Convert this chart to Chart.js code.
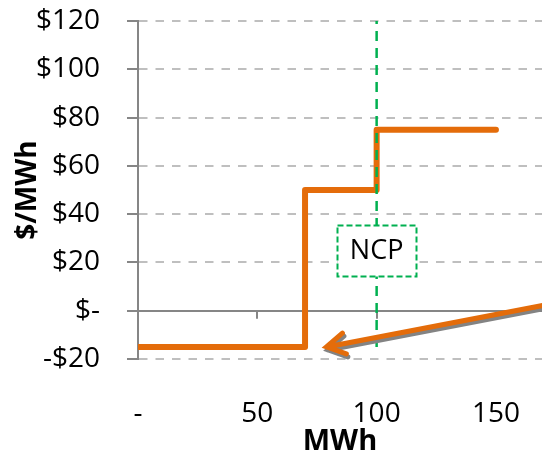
<!DOCTYPE html>
<html>
<head>
<meta charset="utf-8">
<script src="https://cdn.jsdelivr.net/npm/chart.js@4"></script>
<style>
  html, body { margin: 0; padding: 0; background: #fff; }
  #wrap { width: 542px; height: 456px; }
</style>
</head>
<body>
<div id="wrap"><canvas id="c"></canvas></div>
<script>
// Offer curve: price steps at each quantity break (MWh, $/MWh)
const quantityBreaks = [0, 70, 100, 150];
const offerPrices = [-15, 50, 75, 75];

// Net clearing point marker
const ncpQuantity = 100;
const ncpPriceRange = [-15, 120];
const ncpLabel = 'NCP';
const ncpLabelPrice = 25;

// Arrow pointing back along the low-price step
const arrowQuantity = [175, 79];
const arrowPrice = [3.2, -15];

// Axis ticks
const priceTicks = [-20, 0, 20, 40, 60, 80, 100, 120];
const quantityTicks = [0, 50, 100, 150];

const FONT = "'Open Sans', 'Liberation Sans', sans-serif";
const ORANGE = '#E46C0A';
const GREEN = '#00B050';
const AXIS_GREY = '#868686';

function priceLabel(v) {
  if (v === 0) return '$-';
  return v < 0 ? '-$' + (-v) : '$' + v;
}

function grainPattern(ctx) {
  const c = document.createElement('canvas');
  c.width = 2; c.height = 2;
  const g = c.getContext('2d');
  g.fillStyle = '#d4d4d4'; g.fillRect(0, 0, 2, 2);
  g.fillStyle = '#333'; g.fillRect(0, 0, 1, 1); g.fillRect(1, 1, 1, 1);
  return ctx.createPattern(c, 'repeat');
}

function arrowPath(ctx, x1, y1, x2, y2, head, ang) {
  const a = Math.atan2(y1 - y2, x1 - x2);
  ctx.beginPath();
  ctx.moveTo(x1, y1);
  ctx.lineTo(x2, y2);
  ctx.moveTo(x2 + head * Math.cos(a + ang), y2 + head * Math.sin(a + ang));
  ctx.lineTo(x2, y2);
  ctx.lineTo(x2 + head * Math.cos(a - ang), y2 + head * Math.sin(a - ang));
}

const overlay = {
  id: 'overlay',
  beforeDatasetsDraw(chart) {
    // small tick marks hanging below the zero-price line
    const { ctx, scales: { x, y } } = chart;
    const y0 = y.getPixelForValue(0);
    ctx.save();
    ctx.strokeStyle = AXIS_GREY;
    ctx.lineWidth = 2;
    quantityTicks.filter(v => v > 0).forEach(v => {
      const px = Math.round(x.getPixelForValue(v));
      ctx.beginPath();
      ctx.moveTo(px, y0);
      ctx.lineTo(px, y0 + 8);
      ctx.stroke();
    });
    ctx.restore();
  },
  afterDatasetsDraw(chart) {
    const { ctx, scales: { x, y } } = chart;

    // NCP label box
    const cx = x.getPixelForValue(ncpQuantity);
    const cy = y.getPixelForValue(ncpLabelPrice);
    ctx.save();
    ctx.font = '27px ' + FONT;
    const tw = ctx.measureText(ncpLabel).width;
    const bw = Math.round(tw + 25), bh = 51;
    const bx = Math.round(cx - bw / 2) + 0.5, by = Math.round(cy - bh / 2) + 0.5;
    ctx.fillStyle = '#fff';
    ctx.fillRect(bx, by, bw, bh);
    ctx.strokeStyle = GREEN;
    ctx.lineWidth = 2;
    ctx.setLineDash([6, 3]);
    ctx.strokeRect(bx, by, bw, bh);
    ctx.setLineDash([]);
    ctx.fillStyle = '#000';
    ctx.textAlign = 'center';
    ctx.textBaseline = 'middle';
    ctx.fillText(ncpLabel, cx, cy + 1);
    ctx.restore();

    // arrow with a grainy drop shadow
    const x1 = x.getPixelForValue(arrowQuantity[0]);
    const y1 = y.getPixelForValue(arrowPrice[0]);
    const x2 = x.getPixelForValue(arrowQuantity[1]);
    const y2 = y.getPixelForValue(arrowPrice[1]);
    const head = 21, ang = Math.PI / 6;
    ctx.save();
    ctx.lineCap = 'round';
    ctx.lineJoin = 'miter';
    ctx.lineWidth = 5;
    ctx.translate(1.5, 3);
    arrowPath(ctx, x1, y1, x2, y2, head, ang);
    ctx.strokeStyle = grainPattern(ctx);
    ctx.stroke();
    ctx.translate(-1.5, -3);
    arrowPath(ctx, x1, y1, x2, y2, head, ang);
    ctx.strokeStyle = ORANGE;
    ctx.stroke();
    ctx.restore();
  }
};

new Chart(document.getElementById('c'), {
  type: 'line',
  data: {
    datasets: [
      {
        label: 'Offer curve',
        data: quantityBreaks.map((q, i) => ({ x: q, y: offerPrices[i] })),
        stepped: 'before',
        borderColor: ORANGE,
        borderWidth: 6,
        borderCapStyle: 'round',
        borderJoinStyle: 'round',
        pointRadius: 0,
        fill: false,
        order: 1
      },
      {
        label: 'NCP',
        data: ncpPriceRange.map(p => ({ x: ncpQuantity, y: p })),
        borderColor: GREEN,
        borderWidth: 2.5,
        borderDash: [10, 7],
        pointRadius: 0,
        fill: false,
        order: 0
      }
    ]
  },
  options: {
    responsive: true,
    maintainAspectRatio: false,
    animation: false,
    devicePixelRatio: 1,
    layout: { padding: { top: 21, right: 0, bottom: 0, left: 0 } },
    plugins: { legend: { display: false }, tooltip: { enabled: false } },
    scales: {
      x: {
        type: 'linear',
        min: 0,
        max: 169.3,
        afterBuildTicks: s => { s.ticks = quantityTicks.map(v => ({ value: v })); },
        afterFit: s => { s.height = 97; s.paddingLeft = 0; s.paddingRight = 0; },
        grid: { display: false, drawTicks: false },
        border: { display: false },
        ticks: {
          padding: 38,
          color: '#000',
          maxRotation: 0,
          autoSkip: false,
          font: { family: FONT, size: 28 },
          callback: v => (v === 0 ? '-' : String(v))
        },
        title: {
          display: true,
          text: 'MWh',
          color: '#000',
          font: { family: FONT, size: 29, weight: 'bold', lineHeight: 1 },
          padding: { top: 0, bottom: 0 }
        }
      },
      y: {
        min: -20,
        max: 120,
        afterBuildTicks: s => { s.ticks = priceTicks.map(v => ({ value: v })); },
        afterFit: s => { s.width = 138; s.paddingTop = 0; s.paddingBottom = 0; },
        ticks: {
          padding: 27,
          color: '#000',
          font: { family: FONT, size: 28 },
          callback: v => priceLabel(v)
        },
        grid: {
          color: c => (c.tick && c.tick.value === 0 ? AXIS_GREY : '#BFBFBF'),
          lineWidth: 2,
          tickColor: AXIS_GREY,
          tickLength: 11,
          tickWidth: 2,
          tickBorderDash: []
        },
        border: {
          display: true,
          color: AXIS_GREY,
          width: 2,
          dash: c => (c.tick && c.tick.value === 0 ? [] : [8.5, 8])
        },
        title: {
          display: true,
          text: '$/MWh',
          color: '#000',
          font: { family: FONT, size: 28, weight: 'bold', lineHeight: 1 },
          padding: { top: 14, bottom: 0 }
        }
      }
    }
  },
  plugins: [overlay]
});
</script>
</body>
</html>
